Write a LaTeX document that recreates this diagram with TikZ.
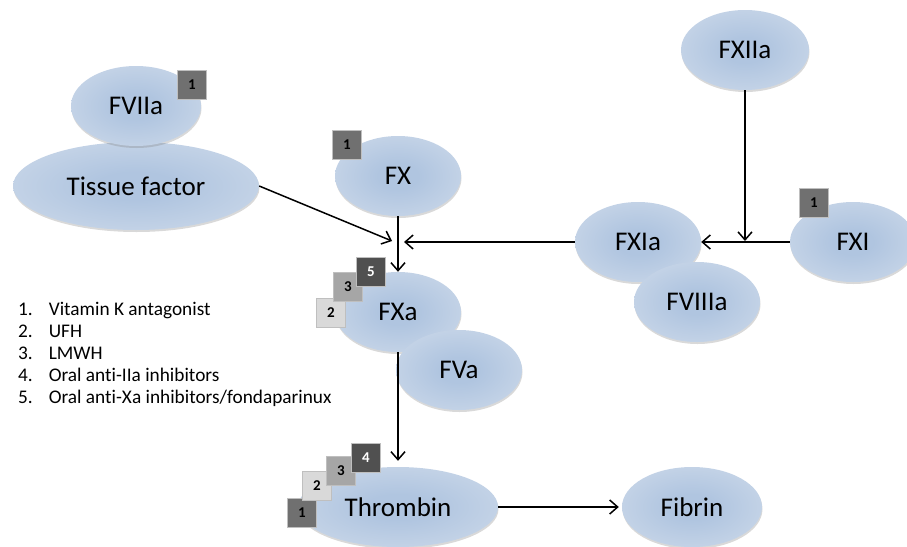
\documentclass[tikz,border=0pt]{standalone}
\usepackage{fontspec}
\setmainfont{Carlito}[Ligatures=NoCommon]
\usepackage{xcolor}
\usepackage{tikz}
\usetikzlibrary{shapes.geometric, arrows.meta, shadows}
\definecolor{factorin}{RGB}{176,197,224}
\definecolor{factormid}{RGB}{200,214,232}
\definecolor{factorout}{RGB}{226,233,242}
\definecolor{druglight}{RGB}{217,217,217}
\definecolor{drugmid}{RGB}{166,166,166}
\definecolor{drugdark}{RGB}{112,112,112}
\definecolor{drugdeep}{RGB}{80,80,80}
\pgfdeclareradialshading{factorshade}{\pgfpoint{0bp}{0bp}}{color(0bp)=(factorin); color(8bp)=(factorin); color(30bp)=(factormid); color(50bp)=(factorout)}
\tikzset{
  factor/.style={
    ellipse, minimum width=126pt, minimum height=80pt,
    inner sep=0pt, shading=factorshade,
    drop shadow={shadow xshift=0.5pt, shadow yshift=-2pt, opacity=0.3, fill=black!50},
    font=\fontsize{27}{30}\selectfont
  },
  drug/.style={
    rectangle, minimum size=29pt, inner sep=0pt,
    draw=white!75!black, line width=0.8pt,
    font=\fontsize{15}{15}\selectfont\bfseries
  },
  drugL/.style={drug, fill=druglight},
  drugM/.style={drug, fill=drugmid},
  drugD/.style={drug, fill=drugdark},
  drugX/.style={drug, fill=drugdeep, text=white},
  arrow/.style={-{Straight Barb[length=8pt,width=14pt]}, line width=1.5pt, black}
}

\begin{document}
\begin{tikzpicture}[x=1pt, y=-1pt]
  \useasboundingbox (0,0) rectangle (907,546);

  % Extrinsic pathway
  \node[factor, minimum width=246pt, minimum height=88pt] (tf) at (136,186) {Tissue factor};
  \node[factor, minimum width=130pt] (f7a) at (136,106) {FVIIa};
  \node[drugD] (s7) at (192,85) {1};

  % Common pathway
  \node[factor] (fx) at (398,176) {FX};
  \node[drugD] (sx) at (347,145) {1};

  % Intrinsic pathway
  \node[factor, minimum width=128pt] (f12a) at (745,50) {FXIIa};
  \node[factor] (f11a) at (638,242) {FXIa};
  \node[factor] (f8a) at (697,302) {FVIIIa};
  \node[factor] (f11) at (853,242) {FXI};
  \node[drugD] (s11) at (814,203) {1};

  % Prothrombinase
  \node[factor] (fxa) at (398,312) {FXa};
  \node[factor] (f5a) at (459,370) {FVa};
  \node[drugL] (sxa2) at (331,313) {2};
  \node[drugM] (sxa3) at (348,287) {3};
  \node[drugX] (sxa5) at (371,272) {5};

  % Thrombin and fibrin
  \node[factor, minimum width=200pt] (thr) at (398,507) {Thrombin};
  \node[factor, minimum width=140pt] (fib) at (692,507) {Fibrin};
  \node[drugD] (sth1) at (302,513) {1};
  \node[drugL] (sth2) at (317,486) {2};
  \node[drugM] (sth3) at (341,471) {3};
  \node[drugX] (sth4) at (366,458) {4};

  % Free arrow ends
  \coordinate (tfend) at (392,241);
  \coordinate (f11aend) at (404,242);
  \coordinate (f12aend) at (745,241);

  % Draw arrows
  \draw[arrow] (tf.east) -- (tfend);
  \draw[arrow] (fx.south) -- (fxa.north);
  \draw[arrow] (f11a.west) -- (f11aend);
  \draw[arrow] (f12a.south) -- (f12aend);
  \draw[arrow] (f11.west) -- (f11a.east);
  \draw[arrow] (fxa.south) -- ([yshift=6pt]thr.north);
  \draw[arrow] (thr.east) -- ([xshift=-3pt]fib.west);

  % Legend
  \node[anchor=north west, inner sep=0pt, font=\fontsize{19.3}{22}\selectfont] (legend) at (18,300) {%
    \begin{tabular}{@{}l@{\hspace{16pt}}l@{}}
      1. & Vitamin K antagonist\\
      2. & UFH\\
      3. & LMWH\\
      4. & Oral anti-IIa inhibitors\\
      5. & Oral anti-Xa inhibitors/fondaparinux
    \end{tabular}};
\end{tikzpicture}
\end{document}
